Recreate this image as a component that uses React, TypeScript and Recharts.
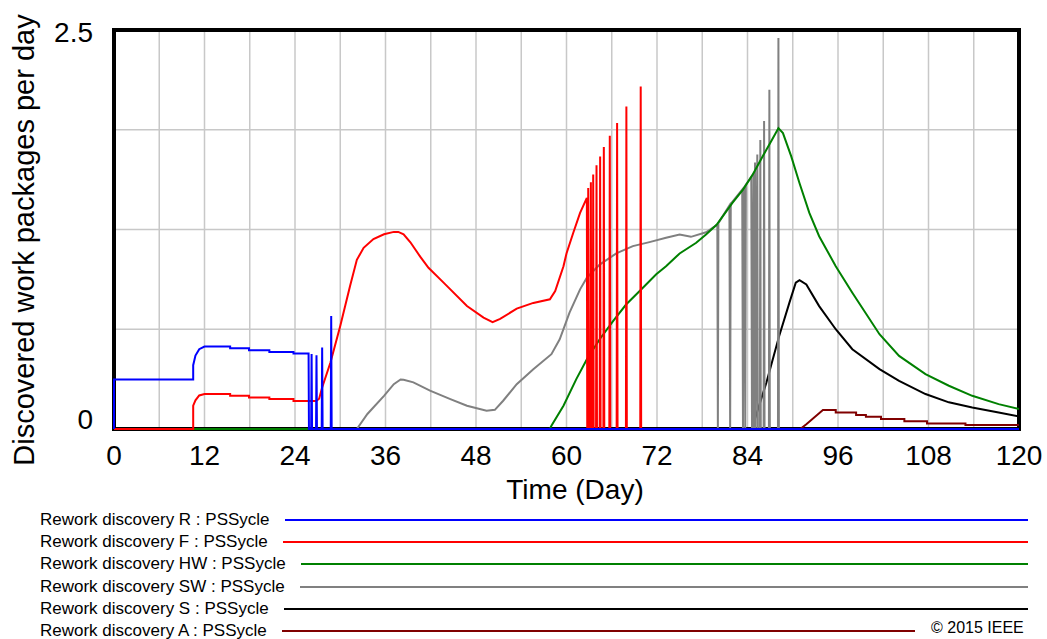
import { LineChart, Line, XAxis, YAxis, CartesianGrid, ReferenceArea } from "recharts"

// [day, work packages per day]
const reworkR: [number, number][] = [
  [0, 0], [0, 0.31], [10.5, 0.31], [10.5, 0.4], [10.8, 0.46], [11.3, 0.5], [12.0, 0.517],
  [15.4, 0.517], [15.4, 0.506], [17.9, 0.506], [17.9, 0.494], [20.6, 0.494], [20.6, 0.483],
  [23.8, 0.483], [23.8, 0.473], [25.8, 0.473], [25.85, 0], [26.14, 0], [26.2, 0.47], [26.26, 0],
  [26.79, 0], [26.85, 0.462], [26.91, 0], [27.54, 0], [27.6, 0.51], [27.66, 0], [28.74, 0],
  [28.8, 0.708], [28.86, 0], [120, 0],
]

const reworkF: [number, number][] = [
  [0, 0], [10.5, 0], [10.5, 0.146], [10.8, 0.18], [11.3, 0.21], [12.0, 0.219], [15.4, 0.219],
  [15.4, 0.208], [17.9, 0.208], [17.9, 0.198], [20.6, 0.198], [20.6, 0.1875], [23.8, 0.1875],
  [23.8, 0.175], [26.8, 0.175], [27.2, 0.19], [27.6, 0.26], [28.7, 0.417], [30.0, 0.646],
  [31.3, 0.896], [32.2, 1.06], [33.1, 1.135], [34.4, 1.19], [35.8, 1.22], [37.1, 1.235],
  [37.7, 1.235], [38.4, 1.22], [39.3, 1.17], [40.6, 1.08], [41.7, 1.01], [43.7, 0.917],
  [46.8, 0.771], [49.0, 0.698], [50.2, 0.67], [51.2, 0.69], [53.4, 0.754], [55.6, 0.79],
  [57.8, 0.8125], [58.5, 0.865], [59.6, 1.02], [60.0, 1.1], [60.9, 1.23], [61.8, 1.354],
  [62.7, 1.448], [62.75, 0], [62.82, 0], [62.88, 1.51], [62.94, 0], [63.17, 0], [63.23, 1.546],
  [63.29, 0], [63.48, 0], [63.54, 1.594], [63.6, 0], [63.92, 0], [63.98, 1.652], [64.04, 0],
  [64.4, 0], [64.46, 1.708], [64.52, 0], [64.89, 0], [64.95, 1.767], [65.01, 0], [65.68, 0],
  [65.74, 1.8375], [65.8, 0], [66.65, 0], [66.71, 1.917], [66.77, 0], [67.88, 0], [67.94, 2.02],
  [68.0, 0], [69.78, 0], [69.84, 2.146], [69.9, 0], [120, 0],
]

const reworkHW: [number, number][] = [
  [0, 0], [57.8, 0], [58.0, 0.02], [59.6, 0.146], [61.3, 0.3125], [62.7, 0.4375], [64.4, 0.5625],
  [66.2, 0.677], [67.9, 0.78], [69.7, 0.865], [71.9, 0.969], [73.2, 1.02], [75.0, 1.1],
  [77.2, 1.167], [78.5, 1.219], [79.9, 1.28], [82.0, 1.417], [83.4, 1.5], [84.7, 1.594],
  [86.0, 1.708], [87.1, 1.8], [88.1, 1.885], [88.7, 1.854], [89.8, 1.708], [90.9, 1.54],
  [92.2, 1.354], [93.5, 1.208], [95.7, 1.02], [97.9, 0.854], [101.5, 0.594], [104.1, 0.458],
  [107.6, 0.344], [110.7, 0.271], [113.8, 0.208], [117.3, 0.156], [120, 0.125],
]

const reworkSW: [number, number][] = [
  [0, 0], [32.2, 0], [33.6, 0.094], [35.8, 0.208], [37.1, 0.281], [38.0, 0.31], [38.4, 0.308],
  [39.7, 0.292], [41.9, 0.24], [44.6, 0.1875], [46.8, 0.146], [49.4, 0.115], [50.5, 0.12],
  [51.6, 0.177], [53.4, 0.281], [55.6, 0.375], [58.0, 0.469], [59.1, 0.5625], [60.4, 0.729],
  [61.8, 0.875], [62.7, 0.948], [64.4, 1.03], [66.6, 1.1], [68.8, 1.146], [71.0, 1.171],
  [73.2, 1.198], [75.0, 1.219], [76.5, 1.204], [78.5, 1.233], [80.0, 1.28], [80.07, 0],
  [80.14, 1.29], [81.6, 1.4], [81.7, 0], [81.78, 1.41], [83.3, 1.5], [83.4, 0], [83.5, 1.51],
  [83.64, 1.52], [83.7, 0], [83.78, 1.53], [84.5, 1.58], [84.6, 0], [84.8, 1.6], [84.86, 0],
  [85.0, 1.67], [85.06, 0], [85.3, 1.72], [85.36, 0], [85.64, 0], [85.7, 1.81], [85.76, 0],
  [86.14, 0], [86.2, 1.93], [86.26, 0], [86.84, 0], [86.9, 2.125], [86.96, 0], [88.04, 0],
  [88.1, 2.45], [88.16, 0], [120, 0],
]

const reworkS: [number, number][] = [
  [0, 0], [84.5, 0], [84.7, 0.02], [86.5, 0.29], [88.2, 0.583], [89.55, 0.79], [90.4, 0.917],
  [90.9, 0.933], [91.8, 0.906], [93.5, 0.77], [95.7, 0.625], [97.9, 0.5], [101.5, 0.375],
  [104.1, 0.302], [107.6, 0.219], [110.7, 0.167], [113.8, 0.135], [117.3, 0.104], [120, 0.078],
]

const reworkA: [number, number][] = [
  [0, 0], [91.0, 0], [91.8, 0.03], [94.0, 0.119], [95.7, 0.119], [95.7, 0.104], [98.4, 0.104],
  [98.4, 0.0875], [99.7, 0.0875], [99.7, 0.077], [101.7, 0.077], [101.7, 0.0625], [104.8, 0.0625],
  [104.8, 0.048], [107.8, 0.048], [107.8, 0.035], [112.9, 0.035], [112.9, 0.025], [120, 0.025],
]

const xTicks = [0, 6, 12, 18, 24, 30, 36, 42, 48, 54, 60, 66, 72, 78, 84, 90, 96, 102, 108, 114, 120]
const xLabelled = [0, 12, 24, 36, 48, 60, 72, 84, 96, 108, 120]
const yTicks = [0, 0.625, 1.25, 1.875, 2.5]
const yLabelled = [0, 2.5]

const series = [
  { key: "R", name: "Rework discovery R : PSSycle", color: "#0000ff", data: reworkR },
  { key: "F", name: "Rework discovery F : PSSycle", color: "#ff0000", data: reworkF },
  { key: "HW", name: "Rework discovery HW : PSSycle", color: "#008000", data: reworkHW },
  { key: "SW", name: "Rework discovery SW : PSSycle", color: "#808080", data: reworkSW },
  { key: "S", name: "Rework discovery S : PSSycle", color: "#000000", data: reworkS },
  { key: "A", name: "Rework discovery A : PSSycle", color: "#800000", data: reworkA },
]

const drawOrder = ["A", "S", "SW", "HW", "F", "R"]

const FONT = "'Liberation Sans', Arial, Helvetica, sans-serif"

const toPoints = (pairs: [number, number][]) => pairs.map(([day, value]) => ({ day, value }))

function XTick({ x, payload }: any) {
  if (!xLabelled.includes(payload.value)) return null
  return (
    <text x={x} y={465} textAnchor="middle" fontSize={28} fontFamily={FONT} fill="#000">
      {payload.value}
    </text>
  )
}

function YTick({ y, payload }: any) {
  if (!yLabelled.includes(payload.value)) return null
  const dy = payload.value === 2.5 ? 12 : 0
  return (
    <text x={93} y={y + dy} textAnchor="end" fontSize={28} fontFamily={FONT} fill="#000">
      {payload.value}
    </text>
  )
}

export default function App() {
  return (
    <div style={{ position: "absolute", left: 0, top: 0, width: 1047, height: 639, background: "#fff" }}>
      <LineChart width={1047} height={639} margin={{ top: 30, right: 28, left: 0, bottom: 140 }}>
        <CartesianGrid stroke="#c8c8c8" strokeWidth={1.5} />
        <ReferenceArea x1={0} x2={120} y1={0} y2={2.5} fill="none" stroke="#000" strokeWidth={4} ifOverflow="visible" />
        <XAxis
          dataKey="day"
          type="number"
          domain={[0, 120]}
          ticks={xTicks}
          interval={0}
          axisLine={false}
          tickLine={false}
          height={70}
          tick={<XTick />}
          allowDuplicatedCategory={false}
          label={{
            content: () => (
              <text x={575} y={499} textAnchor="middle" fontSize={28} fontFamily={FONT} fill="#000">
                Time (Day)
              </text>
            ),
          }}
        />
        <YAxis
          type="number"
          domain={[0, 2.5]}
          ticks={yTicks}
          interval={0}
          axisLine={false}
          tickLine={false}
          width={114}
          tick={<YTick />}
          label={{
            content: () => (
              <text
                x={34}
                y={240}
                transform="rotate(-90, 34, 240)"
                textAnchor="middle"
                fontSize={29}
                fontFamily={FONT}
                fill="#000"
              >
                Discovered work packages per day
              </text>
            ),
          }}
        />
        {drawOrder.map((k) => {
          const s = series.find((d) => d.key === k)!
          return (
            <Line
              key={s.key}
              data={toPoints(s.data)}
              dataKey="value"
              name={s.name}
              type="linear"
              stroke={s.color}
              strokeWidth={2}
              dot={false}
              activeDot={false}
              isAnimationActive={false}
            />
          )
        })}
      </LineChart>
      <div style={{ position: "absolute", left: 40, top: 509, width: 988, fontFamily: FONT, fontSize: 17 }}>
        {series.map((s) => (
          <div key={s.key} style={{ display: "flex", alignItems: "center", height: 22.2, whiteSpace: "nowrap" }}>
            <span>{s.name}</span>
            <div
              style={{
                flex: 1,
                height: 2,
                background: s.color,
                marginLeft: 15,
                marginRight: s.key === "A" ? 113 : 0,
              }}
            />
          </div>
        ))}
      </div>
      <div style={{ position: "absolute", left: 931, top: 619, fontFamily: FONT, fontSize: 16 }}>© 2015 IEEE</div>
    </div>
  )
}
